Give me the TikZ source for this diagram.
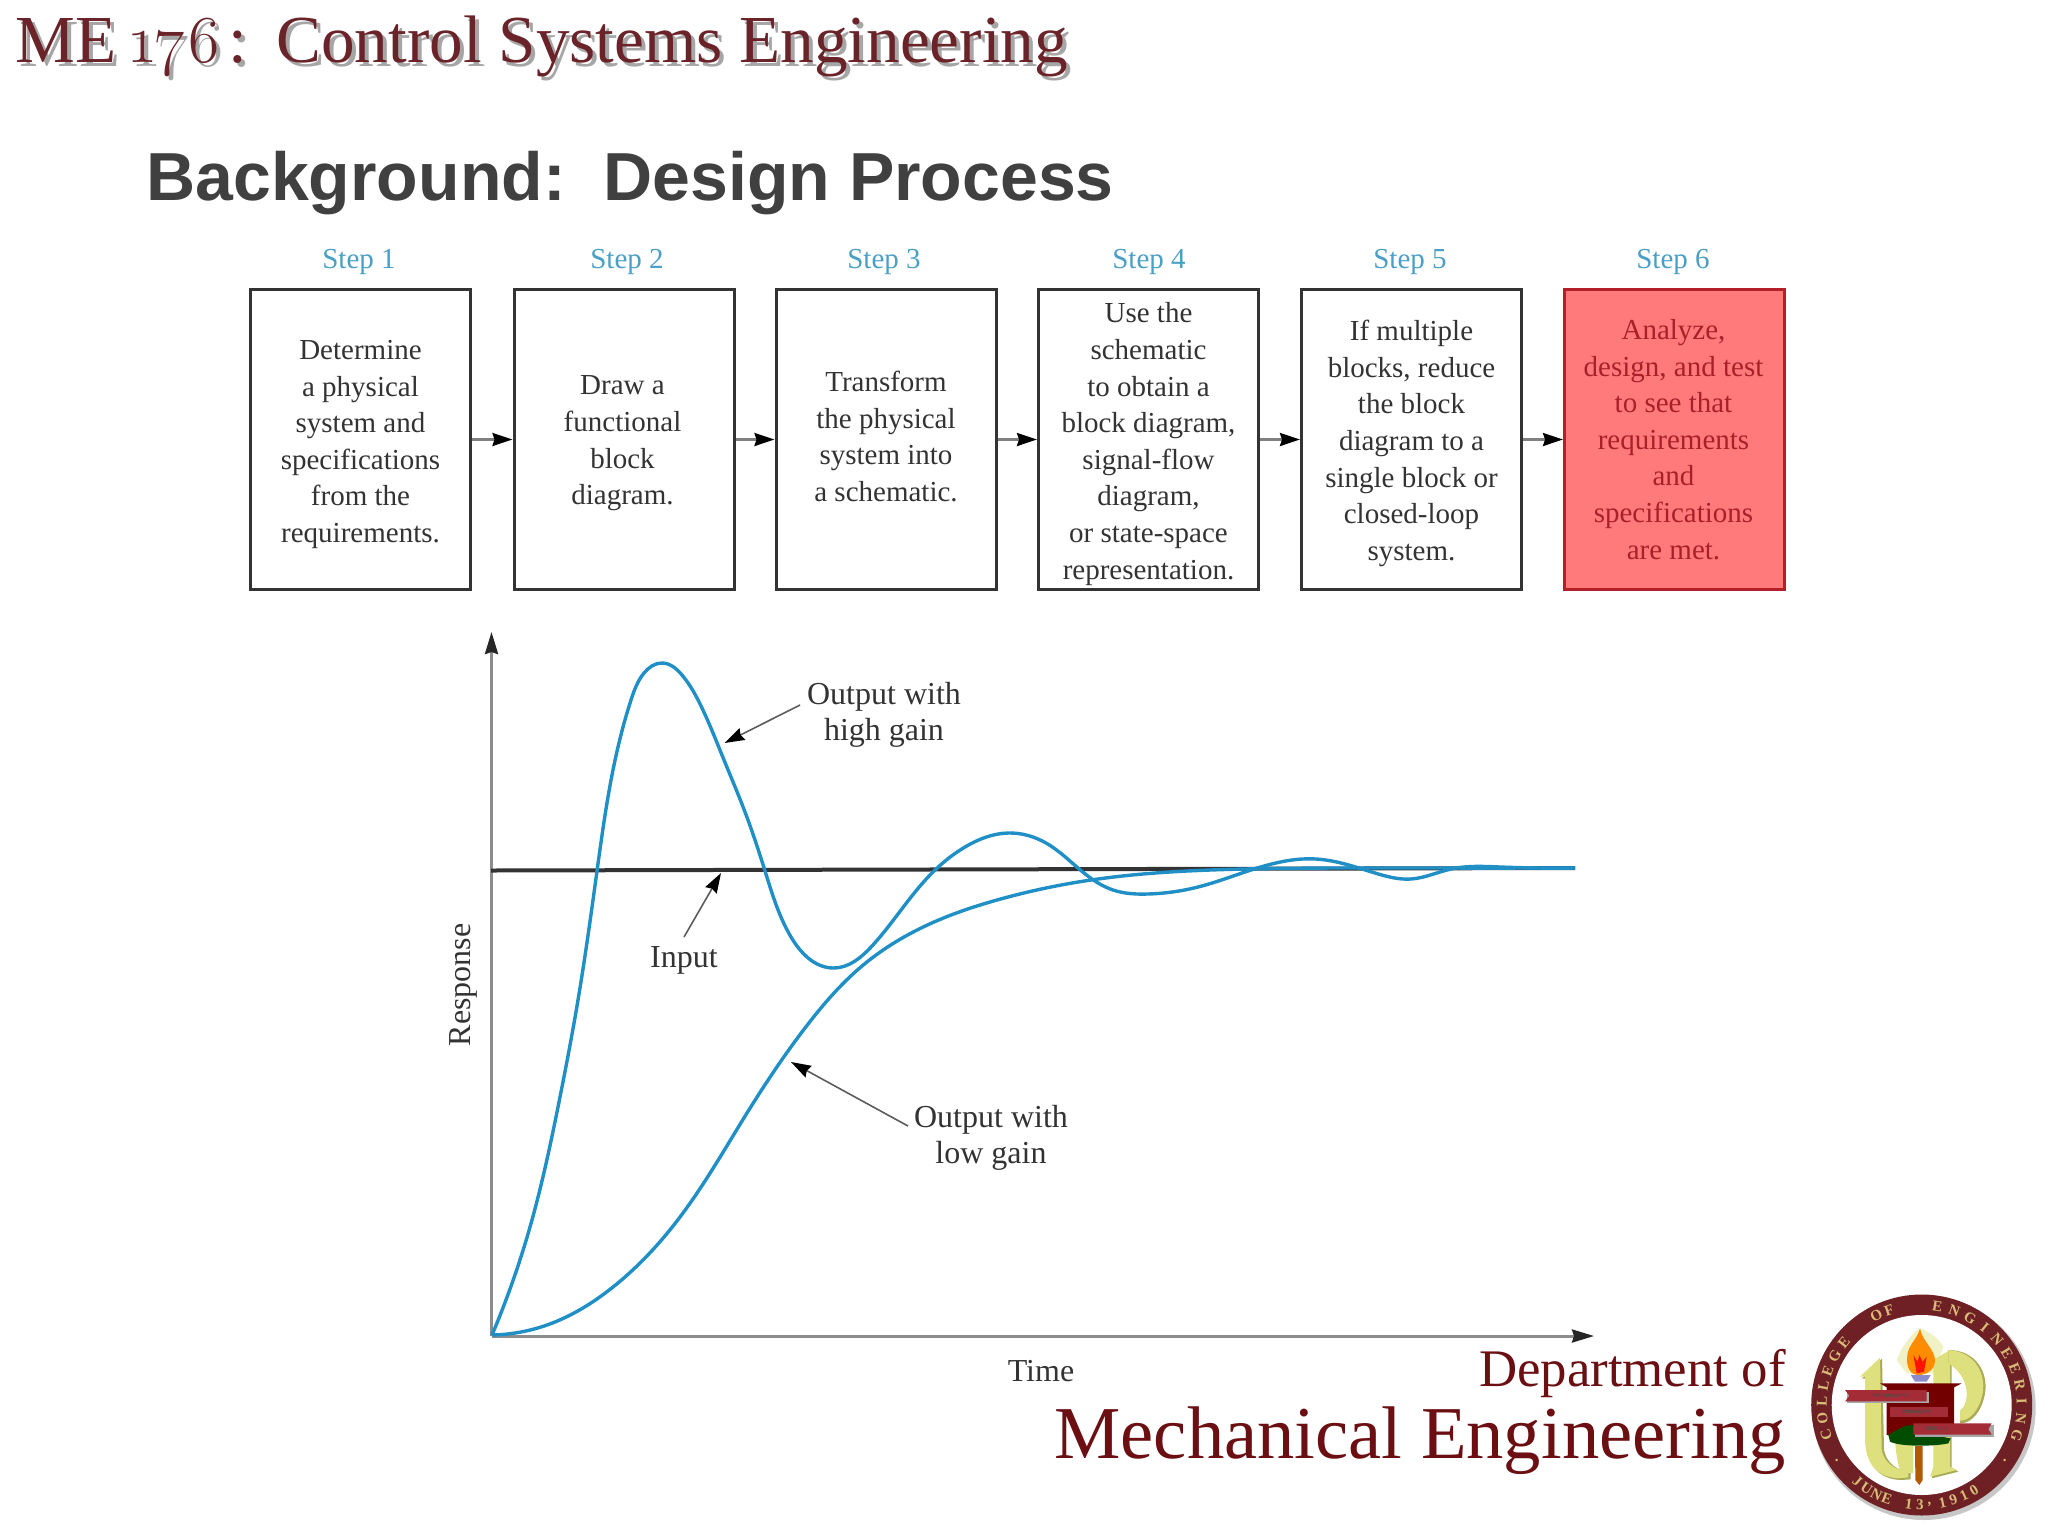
\documentclass[tikz,border=0pt]{standalone}
\usepackage{fontspec}
\setmainfont{Liberation Serif}
\setsansfont{Liberation Sans}
\newfontfamily\lmold{Latin Modern Roman}[Numbers=OldStyle]
\usetikzlibrary{arrows.meta,hobby}
\definecolor{stepblue}{HTML}{4A9FC6}
\definecolor{curveblue}{HTML}{1F8FC6}
\definecolor{ink}{HTML}{333333}
\definecolor{redfill}{HTML}{FF7B7B}
\definecolor{redline}{HTML}{B3202A}
\definecolor{redtext}{HTML}{A82028}
\definecolor{maroon}{HTML}{6B0F12}
\definecolor{titlemaroon}{HTML}{6A2328}
\definecolor{heading}{HTML}{404040}
\definecolor{ringc}{HTML}{6E2024}
\definecolor{ringtext}{HTML}{D8BC78}
\definecolor{upyellow}{HTML}{DDE07C}
\definecolor{upedge}{HTML}{A9AB55}
\definecolor{bannerc}{HTML}{A42C36}
\tikzset{
  blockbox/.style={draw=ink,line width=1.5pt,minimum width=110pt,minimum height=150pt,inner sep=0pt},
  boxtext/.style={align=center,inner sep=0pt,text=ink,font=\fontsize{14.5}{18.3}\selectfont},
  steplabel/.style={text=stepblue,font=\fontsize{14.5}{18}\selectfont,inner sep=0pt},
  flowarrow/.style={draw=gray,line width=1.2pt,-{Stealth[black,length=10pt,width=6.5pt,inset=1pt]}},
  axisline/.style={draw=black!45,line width=1.5pt,-{Stealth[black!85,length=11pt,width=6.5pt,inset=1pt]}},
  response/.style={draw=curveblue,line width=1.7pt,line join=round},
  callout/.style={draw=ink!80,line width=.8pt,-{Stealth[black,length=10pt,width=6.5pt,inset=1pt]}},
  plotlabel/.style={text=ink,align=center,inner sep=0pt,font=\fontsize{16}{18.3}\selectfont},
  seal/.style={text=ringtext,inner sep=0pt,font=\fontsize{7.5}{8}\selectfont\bfseries},
}
\newcommand{\metitle}{ME\hspace{-1.5pt} {\lmold 176}\hspace{-5pt} :\hspace{-2pt}\ \ Control Systems Engineering}
\begin{document}
\begin{tikzpicture}[x=0.5pt,y=-0.5pt]
\useasboundingbox (0,0) rectangle (2048,1536);
\fill[white] (0,0) rectangle (2048,1536);
% titles
\node[anchor=base west,inner sep=0pt,text=black!35,font=\fontsize{33.6}{36}\selectfont] (titleshadow) at (19,67) {\metitle};
\node[anchor=base west,inner sep=0pt,text=titlemaroon,font=\fontsize{33.6}{36}\selectfont] (title) at (15,63) {\metitle};
\node[anchor=base west,inner sep=0pt,text=heading,font=\fontsize{34}{36}\selectfont\sffamily\bfseries] (heading) at (146,200) {Background:\ \ Design Process};
% boxes
\node[blockbox] (b1) at (360.5,439.5) {};
\node[blockbox] (b2) at (624,439.5) {};
\node[blockbox] (b3) at (886,439.5) {};
\node[blockbox] (b4) at (1148.5,439.5) {};
\node[blockbox] (b5) at (1411.5,439.5) {};
\node[blockbox,fill=redfill,draw=redline] (b6) at (1674.5,439.5) {};
\node[boxtext] (t1) at (360.5,444.5) {Determine\\a physical\\system and\\specifications\\from the\\requirements.};
\node[boxtext] (t2) at (622.5,443.5) {Draw a\\functional\\block\\diagram.};
\node[boxtext] (t3) at (886,436.5) {Transform\\the physical\\system into\\a schematic.};
\node[boxtext] (t4) at (1148.5,444) {Use the\\schematic\\to obtain a\\block diagram,\\signal-flow\\diagram,\\or state-space\\representation.};
\node[boxtext] (t5) at (1411.5,443.5) {If multiple\\blocks, reduce\\the block\\diagram to a\\single block or\\closed-loop\\system.};
\node[boxtext,text=redtext] (t6) at (1673.5,439.5) {Analyze,\\design, and test\\to see that\\requirements\\and\\specifications\\are met.};
\node[steplabel] (s1) at (359,262) {Step 1};
\node[steplabel] (s2) at (627,262) {Step 2};
\node[steplabel] (s3) at (884,262) {Step 3};
\node[steplabel] (s4) at (1149,262) {Step 4};
\node[steplabel] (s5) at (1410,262) {Step 5};
\node[steplabel] (s6) at (1673,262) {Step 6};
\draw[flowarrow] (b1) -- (b2);
\draw[flowarrow] (b2) -- (b3);
\draw[flowarrow] (b3) -- (b4);
\draw[flowarrow] (b4) -- (b5);
\draw[flowarrow] (b5) -- (b6);
% axes
\coordinate (o) at (491.5,1336);
\coordinate (ytop) at (491.5,632);
\coordinate (xend) at (1594,1336);
\draw[axisline] (o) -- (ytop);
\draw[axisline] (o) -- (xend);
\coordinate (inL) at (491,870.5);
\coordinate (inR) at (1575,868);
\draw[draw=ink,line width=2pt] (inL) -- (inR);
% curves
\draw[response,use Hobby shortcut] (492,1335) .. (530,1227) .. (560,1097) .. (578,1000) .. (597,871) .. (613,770) .. (631,700) .. (644,673) .. (662,663) .. (682,675) .. (702,708) .. (724,760) .. (745,812) .. (765,871) .. (791,937) .. (834,968) .. (872,946) .. (934,871) .. (965,847) .. (1008,833) .. (1046,843) .. (1084,873) .. (1113,890) .. (1148,894) .. (1198,887) .. (1245,872) .. (1316,859) .. (1375,873) .. (1411,879) .. (1451,869) .. (1500,867) .. (1575,868);
\draw[response,use Hobby shortcut] (492,1335) .. (547,1325) .. (613,1287) .. (680,1217) .. (747,1113) .. (805,1028) .. (862,966) .. (934,922) .. (997,900) .. (1091,880) .. (1245,869) .. (1400,868) .. (1575,868);
% plot labels
\node[plotlabel] (hi) at (884,715) {Output with\\high gain};
\node[plotlabel] (inp) at (684,960) {Input};
\node[plotlabel] (lo) at (991,1138) {Output with\\low gain};
\node[plotlabel,rotate=90] (resp) at (463,985) {Response};
\node[plotlabel] (time) at (1041,1371) {Time};
\coordinate (hitip) at (724.5,743);
\coordinate (intip) at (721,873);
\coordinate (lotip) at (791,1062);
\coordinate (hist) at (800,705);
\coordinate (inst) at (684,937);
\coordinate (lost) at (908,1126);
\draw[callout] (hist) -- (hitip);
\draw[callout] (inst) -- (intip);
\draw[callout] (lost) -- (lotip);
% department
\node[anchor=base east,inner sep=0pt,text=maroon,font=\fontsize{26.4}{30}\selectfont] (dept1) at (1786,1386) {Department of};
\node[anchor=base east,inner sep=0pt,text=maroon,font=\fontsize{37.3}{40}\selectfont] (dept2) at (1786,1458) {Mechanical Engineering};
% seal
\def\cx{1921.7}\def\cy{1405}
\fill[black!22] (\cx+2,\cy+3) circle (112);
\fill[ringc] (\cx,\cy) circle (110.5);
\fill[white] (\cx,\cy) circle (90);
\foreach \ch/\ang [count=\i] in {C/197,O/187.5,L/178,L/169,E/160,G/150.5,E/141,O/117,F/109,E/81,N/71,G/61,I/51,N/41,E/31.5,E/21.5,R/11.5,I/2,N/-8,G/-18}
  \node[seal,rotate=\ang-90] (ct\i) at ({\cx+100*cos(\ang)},{\cy-100*sin(\ang)}) {\ch};
\foreach \ch/\ang [count=\i] in {J/-130,U/-123.5,N/-117,E/-110.5,1/-97.5,3/-91,{,}/-85.5,1/-78,9/-71.5,1/-65,0/-58.5}
  \node[seal,rotate=\ang+90] (bt\i) at ({\cx+100*cos(\ang)},{\cy-100*sin(\ang)}) {\ch};
\node[seal] (d1) at ({\cx-85},{\cy+55}) {.};
\node[seal] (d2) at ({\cx+83},{\cy+55}) {.};
\begin{scope}[shift={(1700,1260)},x=0.16667pt,y=-0.16667pt]
  % pale halo
  \fill[upyellow!45] (590,300) .. controls (610,250) and (640,215) .. (660,205) .. controls (690,215) and (715,235) .. (730,260) -- (700,340) -- (620,340) -- cycle;
  % U
  \fill[upedge] (486,356) -- (546,296) -- (552,570) .. controls (560,610) and (590,630) .. (632,640) -- (632,658) -- (600,660) .. controls (530,655) and (500,610) .. (500,540) -- (500,356) -- cycle;
  \fill[upyellow] (480,350) -- (540,293) -- (545,570) .. controls (553,610) and (585,630) .. (625,635) -- (625,652) -- (595,655) .. controls (525,650) and (495,605) .. (495,535) -- (495,350) -- cycle;
  \fill[upyellow] (585,520) -- (640,520) -- (640,640) -- (600,632) .. controls (590,600) and (585,560) .. (585,520) -- cycle;
  % P
  \fill[upedge] (705,300) -- (755,272) -- (755,622) -- (775,635) -- (695,655) -- (705,622) -- cycle;
  \fill[upyellow] (700,300) -- (750,270) -- (750,620) -- (770,630) -- (690,650) -- (700,620) -- cycle;
  \fill[upedge] (745,270) .. controls (830,270) and (865,340) .. (855,400) .. controls (845,455) and (815,490) .. (780,490) -- (780,460) .. controls (815,430) and (820,350) .. (745,310) -- cycle;
  \fill[upyellow] (745,270) .. controls (825,275) and (858,340) .. (848,400) .. controls (838,450) and (810,482) .. (780,482) -- (780,452) .. controls (810,430) and (812,350) .. (745,310) -- cycle;
  % flame
  \fill[orange!90!yellow] (660,205) .. controls (665,240) and (705,270) .. (705,300) .. controls (705,330) and (680,345) .. (655,345) .. controls (630,345) and (617,320) .. (622,285) .. controls (625,255) and (650,240) .. (660,205) -- cycle;
  \fill[red!85!orange] (640,285) -- (652,305) -- (658,285) -- (668,305) -- (680,290) -- (672,335) -- (650,340) -- cycle;
  \fill[black!45!blue!45] (632,345) -- (692,345) -- (680,365) -- (645,365) -- cycle;
  % torch
  \fill[red!45!black] (540,370) -- (785,370) -- (762,382) -- (762,525) -- (560,525) -- (560,382) -- cycle;
  \fill[black!25!green!40!black] (565,525) .. controls (590,510) and (620,490) .. (640,497) .. controls (680,520) and (720,530) .. (752,535) -- (745,550) .. controls (700,560) and (600,560) .. (570,545) -- cycle;
  \fill[orange!70!black] (645,558) -- (668,558) -- (668,660) -- (658,675) -- (646,660) -- cycle;
  % banners
  \fill[black!35] (442,396) -- (686,396) -- (686,430) -- (442,430) -- cycle;
  \fill[bannerc] (435,390) -- (680,390) -- (680,424) -- (435,424) -- (448,407) -- cycle;
  \fill[bannerc] (570,440) -- (745,440) -- (745,470) -- (570,470) -- cycle;
  \fill[black!35] (646,496) -- (882,496) -- (882,530) -- (646,530) -- cycle;
  \fill[bannerc] (640,490) -- (875,490) -- (865,507) -- (875,524) -- (640,524) -- cycle;
  \node[inner sep=0pt,text=black!70,font=\fontsize{2.6}{3}\selectfont\bfseries] (bn1) at (572,407) {FOUNDATION};
  \node[inner sep=0pt,text=black!70,font=\fontsize{2.6}{3}\selectfont\bfseries] (bn2) at (650,455) {PROGRESS};
  \node[inner sep=0pt,text=black!70,font=\fontsize{2.6}{3}\selectfont\bfseries] (bn3) at (710,507) {SERVICE};
\end{scope}
\end{tikzpicture}
\end{document}
